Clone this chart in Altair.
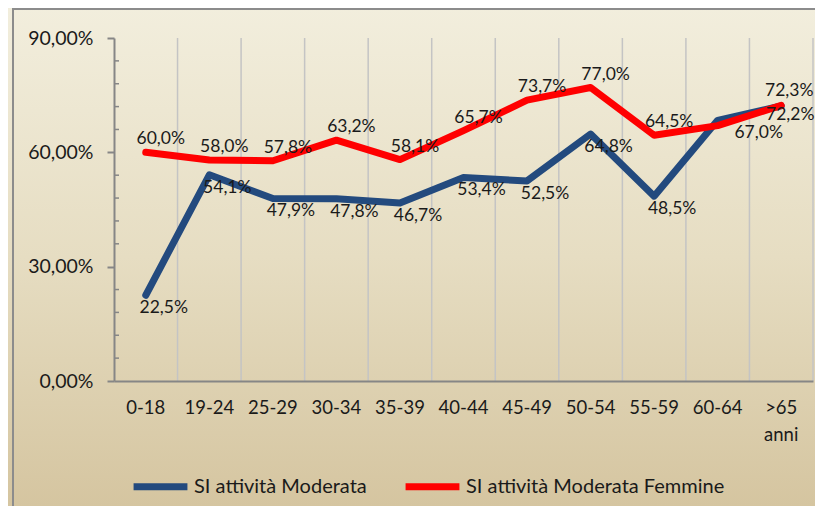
import altair as alt
import pandas as pd

# ---------------- data ----------------
categories = ["0-18", "19-24", "25-29", "30-34", "35-39", "40-44",
              "45-49", "50-54", "55-59", "60-64", ">65 anni"]
moderata = [22.5, 54.1, 47.9, 47.8, 46.7, 53.4, 52.5, 64.8, 48.5, 68.4, 72.2]
femmine = [60.0, 58.0, 57.8, 63.2, 58.1, 65.7, 73.7, 77.0, 64.5, 67.0, 72.3]
series_names = ["SI attività Moderata", "SI attività Moderata Femmine"]
series_colors = ["#234A7E", "#FF0000"]
y_ticks = [0, 30, 60, 90]
minor_ticks = [6, 12, 18, 24, 36, 42, 48, 54, 66, 72, 78, 84]


def fmt(v):
    return f"{v:.1f}".replace(".", ",") + "%"


moderata_labels = [fmt(v) for v in moderata]
moderata_labels[9] = ""  # not shown in the original (overlapping label)
femmine_labels = [fmt(v) for v in femmine]

rows = []
for c, v, l in zip(categories, moderata, moderata_labels):
    rows.append({"cat": c, "series": series_names[0], "value": v, "label": l})
for c, v, l in zip(categories, femmine, femmine_labels):
    rows.append({"cat": c, "series": series_names[1], "value": v, "label": l})
df = pd.DataFrame(rows)
cat_df = pd.DataFrame({"cat": categories})
minor_df = pd.DataFrame({"v": minor_ticks})

# ---------------- layout ----------------
W, H = 699, 343
PL, PT, PR, PB = 106, 30, 2, 125
FONT = "Lato"
AXIS_GRAY = "#868686"
TEXT = "#1A1A1A"
LAST = categories[-1]

xscale = alt.Scale(type="band", domain=categories, paddingInner=0, paddingOuter=0)
yscale = alt.Scale(domain=[0, 90], nice=False, zero=True)

xaxis = alt.Axis(title=None, labelAngle=0, ticks=False, tickSize=0, grid=False,
                 domainColor=AXIS_GRAY, domainWidth=2, labelFont=FONT,
                 labelFontSize=18.5, labelColor=TEXT, labelPadding=17,
                 labelExpr="split(datum.label, ' ')", labelLineHeight=27,
                 zindex=1)
yaxis = alt.Axis(title=None, values=y_ticks, grid=False, tickSize=7,
                 tickColor=AXIS_GRAY, tickWidth=2, domainColor=AXIS_GRAY,
                 domainWidth=2, labelFont=FONT, labelFontSize=19.5,
                 labelColor=TEXT, labelPadding=14,
                 labelExpr="replace(format(datum.value, '.2f'), '.', ',') + '%'",
                 zindex=1)

gradient = alt.Gradient(
    gradient="linear",
    stops=[alt.GradientStop(color="#F2EEDD", offset=0),
           alt.GradientStop(color="#E6DDC2", offset=0.5),
           alt.GradientStop(color="#D5C5A0", offset=1)],
    x1=0, x2=0, y1=0, y2=1,
)

one = alt.Data(values=[{"a": 1}])

bg = alt.Chart(one).mark_rect(fill=gradient).encode(
    x=alt.value(-PL), x2=alt.value(W + PR), y=alt.value(-PT), y2=alt.value(H + PB)
)
frame_left = alt.Chart(one).mark_rule(color="#8C8C8C", strokeWidth=2).encode(
    x=alt.value(-101), y=alt.value(-PT), y2=alt.value(H + PB)
)
frame_top = alt.Chart(one).mark_rule(color="#8C8C8C", strokeWidth=2).encode(
    x=alt.value(-101), x2=alt.value(W + PR), y=alt.value(-29)
)

grid = alt.Chart(cat_df).mark_rule(color="#C4C4C4", strokeWidth=1.5).encode(
    x=alt.X("cat:N", sort=categories, bandPosition=1, scale=xscale, axis=xaxis),
    y=alt.value(0), y2=alt.value(H)
)

minor = alt.Chart(minor_df).mark_rule(color=AXIS_GRAY, strokeWidth=1.5).encode(
    y=alt.Y("v:Q", scale=yscale, axis=yaxis),
    x=alt.value(0), x2=alt.value(5)
)

xenc = alt.X("cat:N", sort=categories, bandPosition=0.5, scale=xscale, axis=xaxis)
yenc = alt.Y("value:Q", scale=yscale, axis=yaxis)

lines = alt.Chart(df).mark_line(strokeWidth=7, strokeCap="round", strokeJoin="round").encode(
    x=xenc, y=yenc,
    color=alt.Color("series:N", sort=series_names,
                    scale=alt.Scale(domain=series_names, range=series_colors),
                    legend=alt.Legend(orient="none", legendX=16, legendY=418,
                                      direction="horizontal", title=None,
                                      labelFont=FONT, labelFontSize=20,
                                      labelColor=TEXT, labelLimit=500,
                                      symbolType="stroke",
                                      symbolSize=2900, symbolStrokeWidth=7,
                                      labelOffset=3, columnPadding=24)),
)

text_base = alt.Chart(df).encode(x=xenc, y=yenc, text="label:N")


def labels(cond, dx, dy):
    return text_base.transform_filter(cond).mark_text(
        font=FONT, fontSize=17.5, color=TEXT, dx=dx, dy=dy)


is_blue = alt.datum.series == series_names[0]
is_red = alt.datum.series == series_names[1]

blue_main = labels(is_blue & (alt.datum.cat != LAST), 18, 13)
blue_last = labels(is_blue & (alt.datum.cat == LAST), 9, 9)
red_main = labels(is_red & (alt.datum.cat != LAST) & (alt.datum.cat != "60-64"), 15, -13)
red_6064 = labels(is_red & (alt.datum.cat == "60-64"), 41, 7)
red_last = labels(is_red & (alt.datum.cat == LAST), 8, -14)

chart = alt.layer(
    bg, frame_left, frame_top, grid, minor, lines,
    blue_main, blue_last, red_main, red_6064, red_last
).properties(
    width=W, height=H,
    autosize=alt.AutoSizeParams(type="none"),
    padding={"left": PL, "top": PT, "right": PR, "bottom": PB},
    background="#E6DDC2",
).configure_view(stroke=None)

chart.save("out.html", embed_options={"renderer": "svg", "actions": False})
